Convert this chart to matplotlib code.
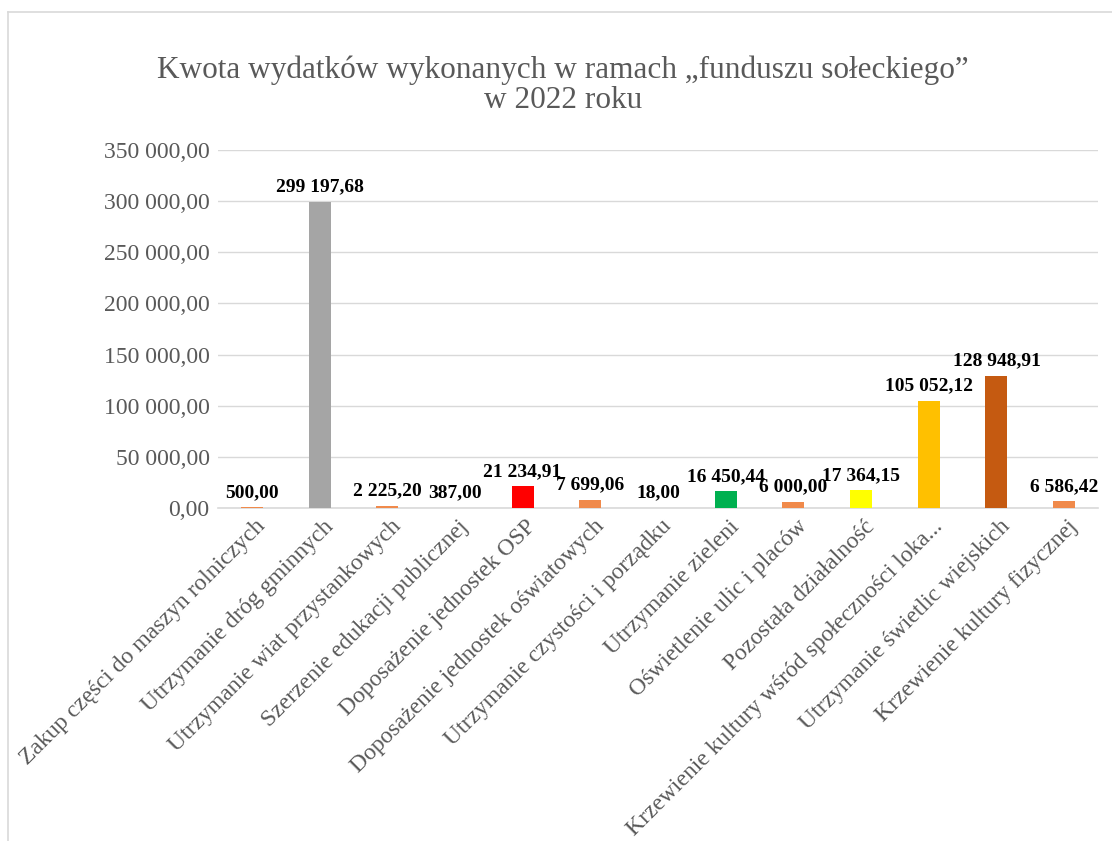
import matplotlib.pyplot as plt
from matplotlib.lines import Line2D
from matplotlib.ticker import FuncFormatter
from matplotlib.transforms import ScaledTranslation

categories = [
    "Zakup części do maszyn rolniczych",
    "Utrzymanie dróg gminnych",
    "Utrzymanie wiat przystankowych",
    "Szerzenie edukacji publicznej",
    "Doposażenie jednostek OSP",
    "Doposażenie jednostek oświatowych",
    "Utrzymanie czystości i porządku",
    "Utrzymanie zieleni",
    "Oświetlenie ulic i placów",
    "Pozostała działalność",
    "Krzewienie kultury wśród społeczności loka...",
    "Utrzymanie świetlic wiejskich",
    "Krzewienie kultury fizycznej",
]
values = [500.00, 299197.68, 2225.20, 387.00, 21234.91, 7699.06, 18.00,
          16450.44, 6000.00, 17364.15, 105052.12, 128948.91, 6586.42]
colors = ["#F08A4B", "#A5A5A5", "#F08A4B", "#F08A4B", "#FF0000", "#F08A4B",
          "#F08A4B", "#00B050", "#F08A4B", "#FFFF00", "#FFC000", "#C55A11",
          "#F08A4B"]
title = "Kwota wydatków wykonanych w ramach „funduszu sołeckiego”\nw 2022 roku"


def pl_format(v, pos=None):
    s = f"{v:,.2f}"
    return s.replace(",", " ").replace(".", ",")


plt.rcParams["font.family"] = ["Liberation Serif", "DejaVu Serif"]

fig = plt.figure(figsize=(11.12, 8.41), dpi=100)
ax = fig.add_axes([218 / 1112, 1 - 508 / 841, 880 / 1112, 358 / 841])

x = list(range(len(categories)))
ax.bar(x, values, width=0.325, color=colors, zorder=3)

ax.set_xlim(-0.5, len(categories) - 0.5)
ax.set_ylim(0, 350000)
ax.set_yticks(range(0, 350001, 50000))
ax.yaxis.set_major_formatter(FuncFormatter(pl_format))
ax.tick_params(axis="y", length=0, pad=6, labelsize=17, labelcolor="#595959")
ax.grid(axis="y", color="#D9D9D9", linewidth=1.0, zorder=0)
for side in ["top", "right", "left"]:
    ax.spines[side].set_visible(False)
ax.spines["bottom"].set_color("#D9D9D9")
ax.spines["bottom"].set_linewidth(1.2)

ax.set_xticks(x)
ax.set_xticklabels([])
ax.tick_params(axis="x", length=0)
offset = ScaledTranslation(3 / 100, -8 / 100, fig.dpi_scale_trans)
for i, label in enumerate(categories):
    ax.text(i, 0, label, transform=ax.get_xaxis_transform() + offset,
            rotation=45, rotation_mode="anchor", ha="right", va="top",
            fontsize=17, color="#595959")

for i, v in enumerate(values):
    ax.annotate(pl_format(v), (i, v), xytext=(0, 7.5), textcoords="offset points",
                ha="center", va="baseline", fontsize=14, fontweight="bold",
                color="black", zorder=4)

fig.text(0.506, 1 - 85 / 841, title, ha="center", va="center",
         fontsize=22.5, color="#595959", linespacing=1.05)

# chart area border
fig.add_artist(Line2D([8 / 1112, 8 / 1112], [0, 1 - 12 / 841],
                      transform=fig.transFigure, color="#D9D9D9", linewidth=1.2))
fig.add_artist(Line2D([8 / 1112, 1], [1 - 12 / 841, 1 - 12 / 841],
                      transform=fig.transFigure, color="#D9D9D9", linewidth=1.2))

fig.savefig("out.png", dpi=100)
